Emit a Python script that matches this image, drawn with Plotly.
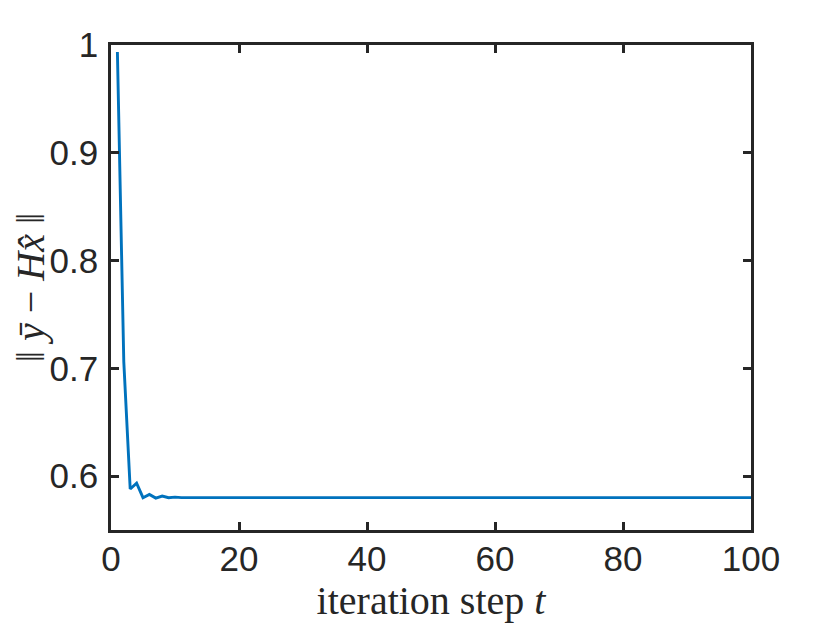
import plotly.graph_objects as go

# iteration index and residual norm
steps = list(range(1, 101))
residual = [0.9935, 0.706, 0.588, 0.5935, 0.580, 0.583, 0.5796, 0.5815, 0.5800, 0.5805,
            0.5800, 0.5800] + [0.5800] * 88

y_ticks = [0.6, 0.7, 0.8, 0.9, 1.0]
y_tick_text = ["0.6", "0.7", "0.8", "0.9", "1"]
x_ticks = [0, 20, 40, 60, 80, 100]

axis_col = "#262626"
tick_font = dict(family="Liberation Sans, Arial, sans-serif", size=35, color=axis_col)
serif = "Liberation Serif, DejaVu Serif, serif"

fig = go.Figure()
fig.add_trace(go.Scatter(x=steps, y=residual, mode="lines",
                         line=dict(color="#0072BD", width=2.9), showlegend=False))

fig.update_xaxes(range=[0, 100], tickvals=x_ticks, ticks="inside", ticklen=8, tickwidth=2.5,
                 tickcolor=axis_col, showline=True, linecolor=axis_col, linewidth=2.5,
                 mirror="ticks", showgrid=False, zeroline=False, tickfont=tick_font,
                 automargin=False, ticklabelstandoff=-4,
                 title=dict(text="iteration step <i>t</i>",
                            font=dict(family=serif, size=40, color=axis_col), standoff=0))
fig.update_yaxes(range=[0.55, 1.0], tickvals=y_ticks, ticktext=y_tick_text, ticks="inside",
                 ticklen=8, tickwidth=2.5, tickcolor=axis_col, showline=True,
                 linecolor=axis_col, linewidth=2.5, mirror="ticks", showgrid=False,
                 zeroline=False, tickfont=tick_font, ticklabelstandoff=3, automargin=False,
                 title=dict(text="‖ <i>y\u0304</i> − <i>Hx\u0302</i> ‖",
                            font=dict(family=serif, size=40, color=axis_col), standoff=4))

# page body adds an 8px offset, so the figure is 8px smaller than the window
fig.update_layout(width=822, height=615, plot_bgcolor="white", paper_bgcolor="white",
                  margin=dict(l=103, r=79, t=37, b=93))

fig.write_html("out.html")
